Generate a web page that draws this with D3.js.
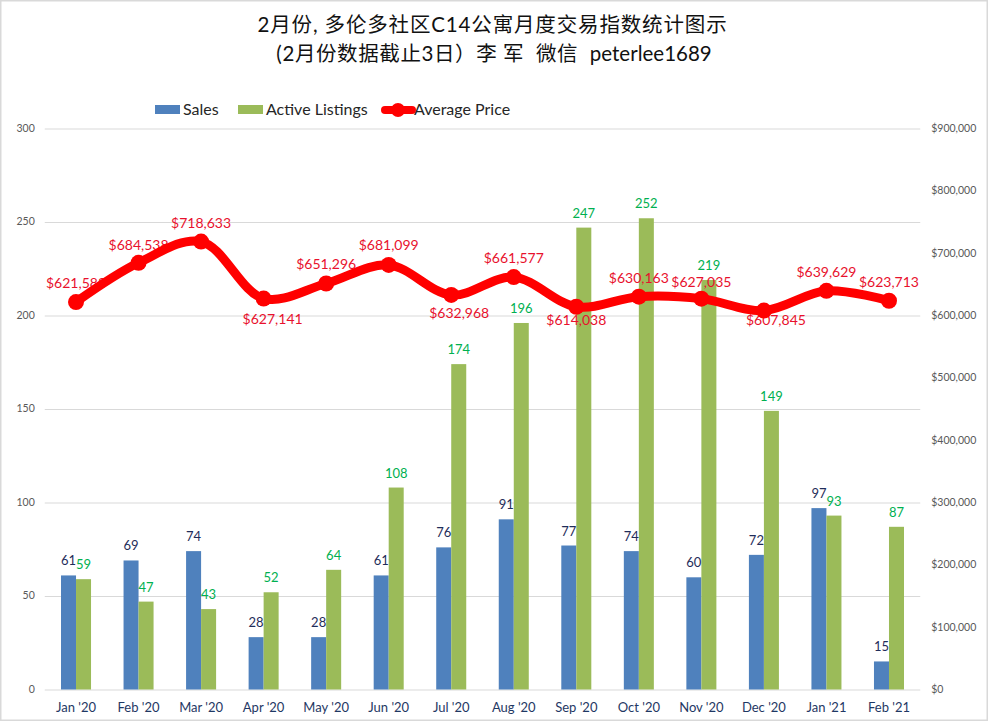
<!DOCTYPE html>
<html>
<head>
<meta charset="utf-8">
<script src="https://cdn.jsdelivr.net/npm/d3@7"></script>
<style>
body { margin: 0; background: #fff; }
svg { display: block; }
text { font-family: Lato, "Noto Sans CJK SC", sans-serif; white-space: pre; }
.grid line { stroke: #d9d9d9; }
.tick text { fill: #595959; font-size: 10.5px; }
.xaxis .tick text { fill: #1f3864; font-size: 13px; }
</style>
</head>
<body>
<script>
var months = ["Jan '20", "Feb '20", "Mar '20", "Apr '20", "May '20", "Jun '20", "Jul '20", "Aug '20", "Sep '20", "Oct '20", "Nov '20", "Dec '20", "Jan '21", "Feb '21"];
var sales = [61, 69, 74, 28, 28, 61, 76, 91, 77, 74, 60, 72, 97, 15];
var listings = [59, 47, 43, 52, 64, 108, 174, 196, 247, 252, 219, 149, 93, 87];
var prices = [621588, 684538, 718633, 627141, 651296, 681099, 632968, 661577, 614038, 630163, 627035, 607845, 639629, 623713];
var countTicks = [0, 50, 100, 150, 200, 250, 300];
var priceTicks = [0, 100000, 200000, 300000, 400000, 500000, 600000, 700000, 800000, 900000];

// label nudges, px from the marker (the chart had these dragged by hand)
var priceLabelDx = [0, 0, 0, 9, 0, 0, 8, 0, 0, 0, 0, 12, 0, 0];
var priceLabelDy = [-19, -18, -19, 20, -20, -20, 18, -19, 13, -19, -17, 9, -19, -19];

var width = 988, height = 721;
var left = 44.75, right = 920.25, top_ = 128.5, bottom = 689.5;

var svg = d3.select('body').append('svg')
  .attr('width', width)
  .attr('height', height);

svg.append('rect')
  .attr('x', 0.5).attr('y', 0.5)
  .attr('width', width - 1).attr('height', height - 1)
  .attr('fill', '#fff').attr('stroke', '#d9d9d9').attr('stroke-width', 2);

var x0 = d3.scaleBand().domain(months).range([left, right]).paddingInner(0.52).paddingOuter(0.26);
var x1 = d3.scaleBand().domain(['sales', 'listings']).range([0, x0.bandwidth()]);
var y = d3.scaleLinear().domain([0, 300]).range([bottom, top_]);
var yPrice = d3.scaleLinear().domain([0, 900000]).range([bottom, top_]);
var cx = function(i) { return x0(months[i]) + x0.bandwidth() / 2; };

// title, the Chinese runs are set wider than the latin ones
var title = svg.append('g').attr('text-anchor', 'middle').attr('fill', '#111').attr('font-size', 20.5);
var line1 = title.append('text').attr('x', 492.5).attr('y', 32).attr('letter-spacing', 0.85);
line1.text('2月份, 多伦多社区C14公寓月度交易指数统计图示');
var line2 = title.append('text').attr('x', 494).attr('y', 61).attr('letter-spacing', 0.6);
line2.append('tspan').text('(2月份数据截止3日）李 军  微信  ');
line2.append('tspan').attr('letter-spacing', 0).text('peterlee1689');

// axes
svg.append('g').attr('class', 'grid')
  .attr('transform', 'translate(' + left + ',0)')
  .call(d3.axisLeft(y).tickValues(countTicks).tickSize(-(right - left)).tickPadding(10))
  .call(function(g) { g.select('.domain').remove(); })
  .call(function(g) { g.selectAll('.tick text').attr('dy', '0.28em'); });

svg.append('g').attr('class', 'right')
  .attr('transform', 'translate(' + right + ',0)')
  .call(d3.axisRight(yPrice).tickValues(priceTicks).tickSize(0).tickPadding(11).tickFormat(d3.format('$,')))
  .call(function(g) { g.select('.domain').remove(); })
  .call(function(g) { g.selectAll('.tick text').attr('dy', '0.28em'); });

svg.append('g').attr('class', 'xaxis')
  .attr('transform', 'translate(0,' + bottom + ')')
  .call(d3.axisBottom(x0).tickSize(0).tickPadding(13))
  .call(function(g) { g.select('.domain').remove(); });

// bars
svg.append('g').selectAll('rect').data(sales).join('rect')
  .attr('x', function(d, i) { return x0(months[i]) + x1('sales'); })
  .attr('y', function(d) { return y(d); })
  .attr('width', x1.bandwidth())
  .attr('height', function(d) { return bottom - y(d); })
  .attr('fill', '#4f81bd');

svg.append('g').selectAll('rect').data(listings).join('rect')
  .attr('x', function(d, i) { return x0(months[i]) + x1('listings'); })
  .attr('y', function(d) { return y(d); })
  .attr('width', x1.bandwidth())
  .attr('height', function(d) { return bottom - y(d); })
  .attr('fill', '#9bbb59');

// bar labels
svg.append('g').attr('text-anchor', 'middle').attr('font-size', 13).attr('fill', '#1f2d5a')
  .selectAll('text').data(sales).join('text')
  .attr('x', function(d, i) { return x0(months[i]) + x1('sales') + x1.bandwidth() / 2; })
  .attr('y', function(d) { return y(d) - 10; })
  .text(function(d) { return d; });

svg.append('g').attr('text-anchor', 'middle').attr('font-size', 13).attr('fill', '#00b050')
  .selectAll('text').data(listings).join('text')
  .attr('x', function(d, i) { return x0(months[i]) + x1('listings') + x1.bandwidth() / 2; })
  .attr('y', function(d) { return y(d) - 10; })
  .text(function(d) { return d; });

// price labels go under the line, the line clips a few of them
svg.append('g').attr('text-anchor', 'middle').attr('font-size', 14).attr('fill', '#e8112d')
  .selectAll('text').data(prices).join('text')
  .attr('x', function(d, i) { return cx(i) + priceLabelDx[i]; })
  .attr('y', function(d, i) { return yPrice(d) + priceLabelDy[i] + 5; })
  .text(function(d) { return d3.format('$,')(d); });

var line = d3.line()
  .x(function(d, i) { return cx(i); })
  .y(function(d) { return yPrice(d); })
  .curve(d3.curveCatmullRom.alpha(0.5));

svg.append('path').datum(prices)
  .attr('d', line)
  .attr('fill', 'none')
  .attr('stroke', '#ff0000')
  .attr('stroke-width', 9)
  .attr('stroke-linecap', 'round');

svg.append('g').selectAll('circle').data(prices).join('circle')
  .attr('cx', function(d, i) { return cx(i); })
  .attr('cy', function(d) { return yPrice(d); })
  .attr('r', 8)
  .attr('fill', '#ff0000');

// legend
var legend = svg.append('g').attr('font-size', 16).attr('fill', '#262626');
legend.append('rect').attr('x', 155).attr('y', 105).attr('width', 25).attr('height', 9).attr('fill', '#4f81bd');
legend.append('text').attr('x', 183).attr('y', 115).text('Sales');
legend.append('rect').attr('x', 238).attr('y', 105).attr('width', 25).attr('height', 9).attr('fill', '#9bbb59');
legend.append('text').attr('x', 266).attr('y', 115).text('Active Listings');
legend.append('line').attr('x1', 385).attr('x2', 412).attr('y1', 110).attr('y2', 110)
  .attr('stroke', '#ff0000').attr('stroke-width', 8).attr('stroke-linecap', 'round');
legend.append('circle').attr('cx', 398).attr('cy', 110).attr('r', 7).attr('fill', '#ff0000');
legend.append('text').attr('x', 414).attr('y', 115).text('Average Price');
</script>
</body>
</html>
